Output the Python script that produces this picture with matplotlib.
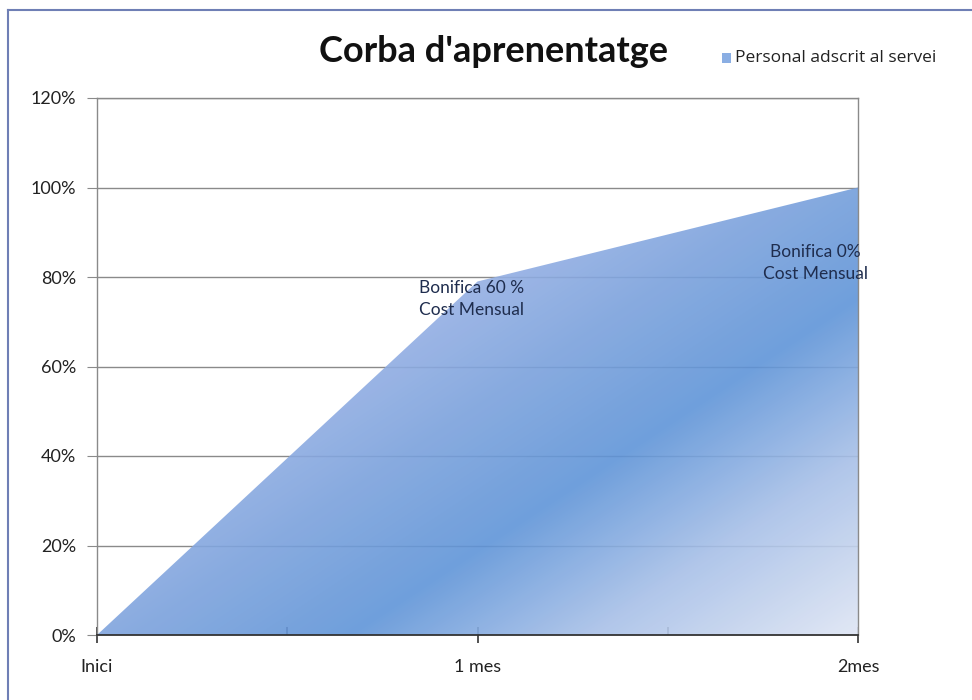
import numpy as np
import matplotlib
matplotlib.use("Agg")
import matplotlib.pyplot as plt
from matplotlib.patches import Polygon
from matplotlib.colors import to_rgb

# ---- data ----
categories = ["Inici", "1 mes", "2mes"]
values = [0.0, 0.79, 1.0]
series_name = "Personal adscrit al servei"
title = "Corba d'aprenentatge"
annotations = [("Bonifica 60 %\nCost Mensual", 1), ("Bonifica 0%\nCost Mensual", 2)]
yticks = [0, 0.2, 0.4, 0.6, 0.8, 1.0, 1.2]
ytick_labels = ["0%", "20%", "40%", "60%", "80%", "100%", "120%"]

plt.rcParams['font.family'] = ['Lato', 'DejaVu Sans']

W, H = 972, 700
fig = plt.figure(figsize=(W / 100, H / 100), dpi=100)
L, R, T, B = 97, 858, 98, 635
ax = fig.add_axes([L / W, 1 - B / H, (R - L) / W, (B - T) / H])

x = np.arange(len(categories))
ax.set_xlim(0, len(categories) - 1)
ax.set_ylim(0, 1.2)

# gridlines (under the fill)
for yv in yticks[1:]:
    ax.axhline(yv, color="#8a8a8a", lw=1.0, zorder=1)

# gradient fill clipped to area polygon
nx, ny = R - L, B - T
px = np.linspace(L, R, nx)
py = np.linspace(T, B, ny)
PX, PY = np.meshgrid(px, py)
t = 0.55 * PX + 0.83 * PY
stops_t = [480, 600, 720, 850, 1000]
stops_c = ["#a3b9e7", "#88abe0", "#6f9fdc", "#b0c6ea", "#e2e8f5"]
alpha = 0.9
img = np.zeros((ny, nx, 4))
for k in range(3):
    comp = [(to_rgb(c)[k] - (1 - alpha)) / alpha for c in stops_c]
    img[..., k] = np.clip(np.interp(t, stops_t, comp), 0, 1)
img[..., 3] = alpha
im = ax.imshow(img, extent=[0, len(categories) - 1, 0, 1.2], origin="upper",
               aspect="auto", zorder=2, interpolation="bilinear")
poly_pts = [(xi, yi) for xi, yi in zip(x, values)] + [(x[-1], 0), (x[0], 0)]
poly = Polygon(poly_pts, closed=True, facecolor="none", edgecolor="none",
               transform=ax.transData)
ax.add_patch(poly)
im.set_clip_path(poly)

# axes styling
for s in ["top", "right", "left"]:
    ax.spines[s].set_color("#8a8a8a")
    ax.spines[s].set_linewidth(1.0)
ax.spines["bottom"].set_color("#333333")
ax.spines["bottom"].set_linewidth(1.3)
ax.spines["bottom"].set_zorder(5)

ax.set_yticks(yticks)
ax.set_yticklabels(ytick_labels)
ax.tick_params(axis="y", direction="out", length=7, color="#8a8a8a",
               labelsize=13, labelcolor="#222222", pad=8)
ax.set_xticks(x)
ax.set_xticklabels(categories)
ax.set_xticks([0.5, 1.5], minor=True)
ax.tick_params(axis="x", which="major", direction="inout", length=12,
               color="#333333", width=1.2, labelsize=13, labelcolor="#222222", pad=11)
ax.tick_params(axis="x", which="minor", direction="in", length=6,
               color="#333333", width=1.2)

# annotations
ax.text(0.985, 0.75, annotations[0][0], ha="center", va="center", fontsize=12.5,
        color="#1f2d4e", linespacing=1.45, zorder=6)
ax.text(1.887, 0.832, annotations[1][0], ha="center", va="center", fontsize=12.5,
        color="#1f2d4e", linespacing=1.45, zorder=6)

# title and legend
fig.text(493 / W, 1 - 52 / H, title, ha="center", va="center",
         fontsize=26, fontweight="bold", color="#111111")
fig.patches.append(plt.Rectangle((722 / W, 1 - 63 / H), 9 / W, 10 / H,
                                 transform=fig.transFigure, facecolor="#8aaee3",
                                 edgecolor="none"))
fig.text(735 / W, 1 - 58 / H, series_name, ha="left", va="center",
         fontsize=12.5, color="#222222", family=["Open Sans", "DejaVu Sans"])

# outer chart border (left & top)
fig.add_artist(plt.Line2D([8 / W, 8 / W], [0, 1 - 10 / H], transform=fig.transFigure,
                          color="#6f7fb5", lw=1.5))
fig.add_artist(plt.Line2D([8 / W, 1], [1 - 10 / H, 1 - 10 / H], transform=fig.transFigure,
                          color="#6f7fb5", lw=1.5))

fig.savefig("out.png", dpi=100)
